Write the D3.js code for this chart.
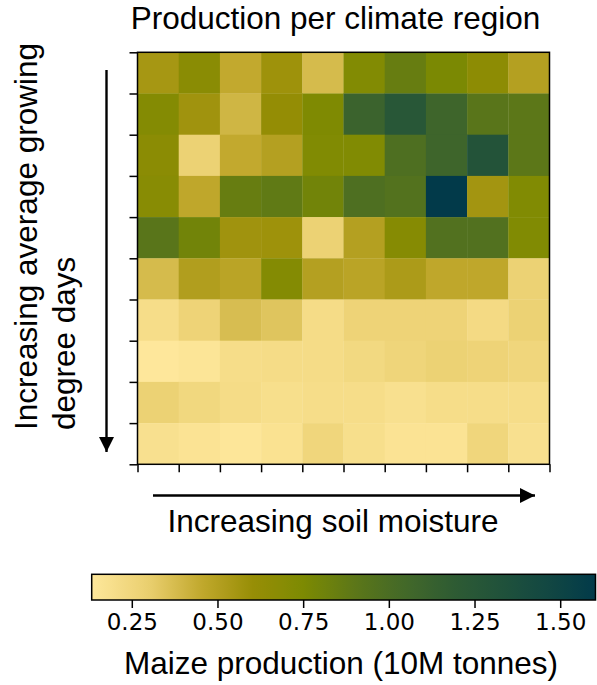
<!DOCTYPE html>
<html><head><meta charset="utf-8">
<script src="https://cdn.jsdelivr.net/npm/d3@7"></script>
<style>body{margin:0;background:#fff}svg{display:block}</style>
</head><body>
<script>
// rows top to bottom (increasing growing degree days downward), columns left to right (increasing soil moisture)
const row0 = [0.55,0.68,0.45,0.58,0.38,0.72,0.85,0.76,0.66,0.50];
const row1 = [0.71,0.57,0.40,0.62,0.74,1.10,1.25,1.08,0.92,0.90];
const row2 = [0.67,0.28,0.45,0.50,0.73,0.73,0.98,1.08,1.30,0.90];
const row3 = [0.69,0.46,0.85,0.88,0.80,0.98,0.95,1.603,0.56,0.73];
const row4 = [0.92,0.80,0.57,0.58,0.28,0.50,0.70,0.96,0.96,0.73];
const row5 = [0.38,0.51,0.48,0.71,0.50,0.48,0.53,0.46,0.46,0.28];
const row6 = [0.20,0.27,0.37,0.34,0.21,0.27,0.27,0.27,0.22,0.28];
const row7 = [0.133,0.15,0.20,0.21,0.21,0.23,0.26,0.28,0.27,0.25];
const row8 = [0.28,0.24,0.21,0.19,0.20,0.20,0.18,0.20,0.20,0.20];
const row9 = [0.18,0.16,0.14,0.17,0.25,0.19,0.16,0.16,0.25,0.18];
const rows = [row0,row1,row2,row3,row4,row5,row6,row7,row8,row9];
const colorTicks = [0.25,0.50,0.75,1.00,1.25,1.50];
const vmin = 0.133, vmax = 1.603;
const cmapValues = [0.133,0.30,0.45,0.60,0.75,0.90,1.05,1.20,1.35,1.50,1.603];
const cmapColors = ["#fee79b","#eacf6f","#c2a92e","#988e06","#7d8a02","#5c7718","#426829","#2d5a34","#1e503c","#0e4444","#023a4a"];
const titleText = "Production per climate region";
const xLabel = "Increasing soil moisture";
const yLabelLines = ["Increasing average growing","degree days"];
const cbLabel = "Maize production (10M tonnes)";

const W = 597, H = 685;
const svg = d3.select("body").append("svg").attr("width", W).attr("height", H);
const sans = "'Liberation Sans', Arial, sans-serif";
const fs = 31.5;
const hx0 = 137.5, hx1 = 549.5, hy0 = 52.3, hy1 = 464.3;
const nC = 10, nR = 10;
const xb = d3.scaleBand().domain(d3.range(nC)).range([hx0, hx1]);
const yb = d3.scaleBand().domain(d3.range(nR)).range([hy0, hy1]);
const color = d3.scaleLinear().domain(cmapValues).range(cmapColors).interpolate(d3.interpolateRgb).clamp(true);

const cells = [];
rows.forEach((r, i) => r.forEach((v, j) => cells.push({i, j, v})));
svg.append("g").selectAll("rect").data(cells).join("rect")
  .attr("x", d => xb(d.j)).attr("y", d => yb(d.i))
  .attr("width", xb.bandwidth() + 0.3).attr("height", yb.bandwidth() + 0.3)
  .attr("fill", d => color(d.v));

svg.append("rect").attr("x", hx0).attr("y", hy0).attr("width", hx1 - hx0).attr("height", hy1 - hy0)
  .attr("fill", "none").attr("stroke", "#000").attr("stroke-width", 1.5);

const xl = d3.scaleLinear().domain([0, nC]).range([hx0, hx1]);
const yl = d3.scaleLinear().domain([0, nR]).range([hy0, hy1]);
const gx = svg.append("g").attr("transform", `translate(0,${hy1})`)
  .call(d3.axisBottom(xl).tickValues(d3.range(nC + 1)).tickFormat("").tickSize(8).tickSizeOuter(0));
const gy = svg.append("g").attr("transform", `translate(${hx0},0)`)
  .call(d3.axisLeft(yl).tickValues(d3.range(nR + 1)).tickFormat("").tickSize(8).tickSizeOuter(0));
[gx, gy].forEach(g => { g.select(".domain").remove(); g.selectAll("line").attr("stroke", "#000").attr("stroke-width", 1.5); });

// arrows
const defs = svg.append("defs");
defs.append("marker").attr("id", "ah").attr("viewBox", "0 0 10 10").attr("refX", 10).attr("refY", 5)
  .attr("markerUnits", "userSpaceOnUse").attr("markerWidth", 17).attr("markerHeight", 15).attr("orient", "auto")
  .append("path").attr("d", "M0,0 L10,5 L0,10 Z").attr("fill", "#000");
svg.append("line").attr("x1", 153).attr("y1", 495.5).attr("x2", 535).attr("y2", 495.5)
  .attr("stroke", "#000").attr("stroke-width", 2.4).attr("marker-end", "url(#ah)");
svg.append("line").attr("x1", 106.5).attr("y1", 70).attr("x2", 106.5).attr("y2", 452)
  .attr("stroke", "#000").attr("stroke-width", 2.4).attr("marker-end", "url(#ah)");

// texts
svg.append("text").attr("x", 335.5).attr("y", 28.5).attr("text-anchor", "middle")
  .attr("font-family", sans).attr("font-size", fs).text(titleText);
svg.append("text").attr("x", 333).attr("y", 532).attr("text-anchor", "middle")
  .attr("font-family", sans).attr("font-size", fs).text(xLabel);
const yt = svg.append("text").attr("transform", "rotate(-90)")
  .attr("font-family", sans).attr("font-size", fs);
yLabelLines.forEach((t, k) => yt.append("tspan").attr("x", -430).attr("y", 37 + k * 38).text(t));

// colorbar
const cx0 = 91.7, cx1 = 595.5, cy0 = 574.3, cy1 = 600;
const cbx = d3.scaleLinear().domain([vmin, vmax]).range([cx0, cx1]);
const grad = defs.append("linearGradient").attr("id", "cg").attr("x1", "0%").attr("x2", "100%");
d3.range(0, 1.0001, 0.02).forEach(t => {
  grad.append("stop").attr("offset", (t * 100) + "%").attr("stop-color", color(vmin + t * (vmax - vmin)));
});
svg.append("rect").attr("x", cx0).attr("y", cy0).attr("width", cx1 - cx0).attr("height", cy1 - cy0)
  .attr("fill", "url(#cg)").attr("stroke", "#000").attr("stroke-width", 1.5);
const gc = svg.append("g").attr("transform", `translate(0,${cy1})`)
  .call(d3.axisBottom(cbx).tickValues(colorTicks).tickFormat(d3.format(".2f")).tickSize(8).tickPadding(6));
gc.select(".domain").remove();
gc.selectAll("line").attr("stroke", "#000").attr("stroke-width", 1.5);
gc.selectAll("text").attr("font-family", "'DejaVu Sans', sans-serif").attr("font-size", 23).attr("fill", "#000");
svg.append("text").attr("x", 341).attr("y", 673.5).attr("text-anchor", "middle")
  .attr("font-family", sans).attr("font-size", fs).text(cbLabel);
</script>
</body></html>
